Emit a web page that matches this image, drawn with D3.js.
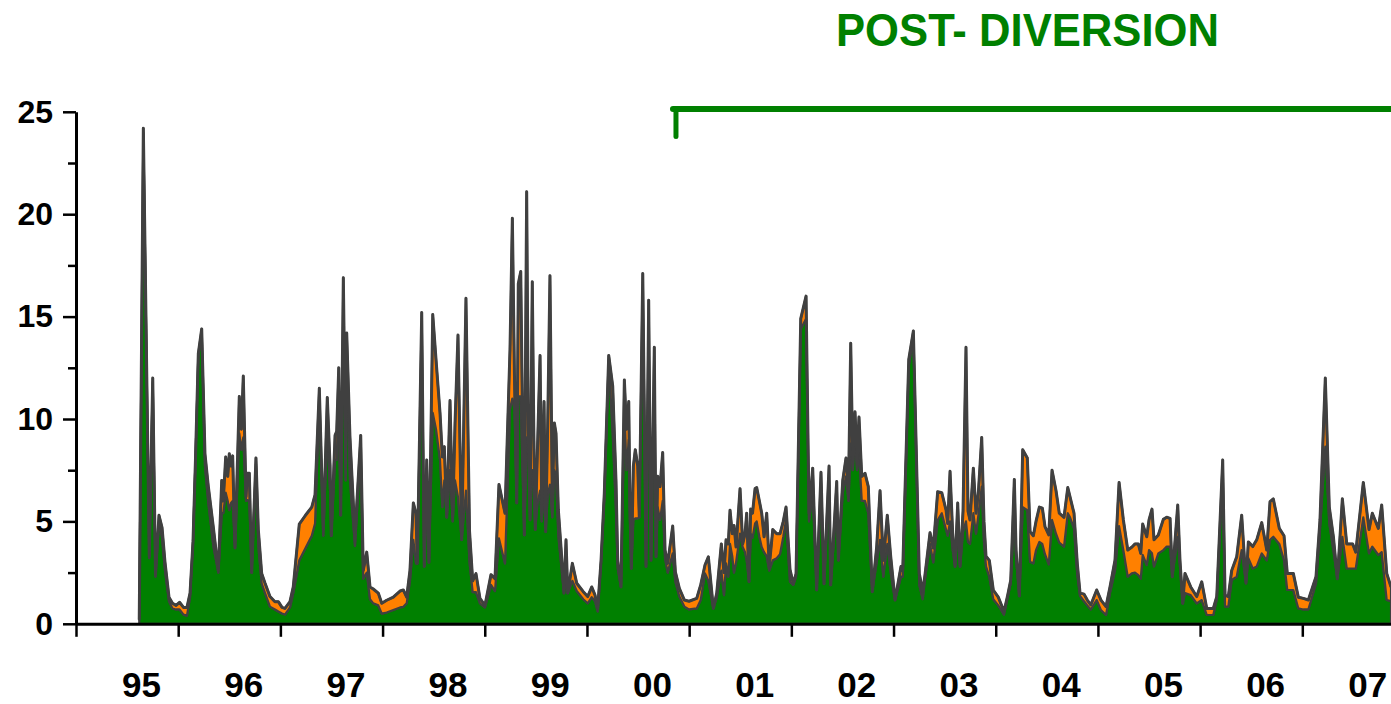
<!DOCTYPE html>
<html><head><meta charset="utf-8">
<script src="https://cdn.jsdelivr.net/npm/d3@7"></script>
<style>html,body{margin:0;padding:0;background:#fff;} svg{display:block;}</style>
</head><body>
<svg id="chart" width="1391" height="704"></svg>
<script>
// ---- DATA (decimal years) ----
const dates = [
 1995.619,1995.659,1995.717,1995.751,1995.778,1995.812,1995.842,1995.871,1995.910,1995.944,1995.979,
 1996.013,1996.052,1996.086,1996.116,1996.145,1996.169,1996.197,1996.230,1996.262,1996.295,1996.344,1996.393,1996.426,1996.441,1996.465,1996.485,1996.500,1996.517,1996.533,1996.556,1996.598,1996.618,1996.637,1996.664,1996.676,1996.696,1996.719,1996.761,1996.784,1996.817,1996.850,1996.898,1996.947,1996.980,
 1997.016,1997.045,1997.094,1997.126,1997.185,1997.246,1997.307,1997.339,1997.381,1997.420,1997.459,1997.486,1997.498,1997.535,1997.551,1997.571,1997.590,1997.616,1997.639,1997.649,1997.681,1997.730,1997.786,1997.811,1997.845,1997.877,1997.909,1997.958,1997.992,
 1998.040,1998.105,1998.171,1998.203,1998.236,1998.268,1998.301,1998.327,1998.340,1998.383,1998.408,1998.432,1998.454,1998.491,1998.523,1998.562,1998.585,1998.604,1998.628,1998.660,1998.686,1998.709,1998.738,1998.774,1998.816,1998.851,1998.882,1998.914,1998.953,
 1999.002,1999.061,1999.100,1999.139,1999.198,1999.247,1999.270,1999.291,1999.313,1999.328,1999.352,1999.367,1999.387,1999.410,1999.426,1999.443,1999.465,1999.480,1999.494,1999.516,1999.541,1999.557,1999.580,1999.596,1999.616,1999.638,1999.661,1999.681,1999.697,1999.720,1999.759,1999.775,1999.795,1999.812,1999.857,1999.900,1999.964,
 2000.007,2000.047,2000.079,2000.105,2000.138,2000.170,2000.213,2000.252,2000.284,2000.301,2000.333,2000.366,2000.387,2000.409,2000.421,2000.434,2000.454,2000.473,2000.497,2000.512,2000.546,2000.578,2000.604,2000.627,2000.659,2000.676,2000.692,2000.715,2000.741,2000.764,2000.790,2000.839,2000.865,2000.904,2000.953,2000.999,
 2001.074,2001.113,2001.155,2001.188,2001.237,2001.270,2001.315,2001.341,2001.361,2001.383,2001.400,2001.422,2001.439,2001.459,2001.498,2001.524,2001.547,2001.563,2001.586,2001.602,2001.620,2001.645,2001.661,2001.687,2001.710,2001.733,2001.759,2001.784,2001.818,2001.857,2001.889,2001.921,2001.948,2001.987,
 2002.019,2002.046,2002.092,2002.144,2002.173,2002.209,2002.248,2002.290,2002.320,2002.369,2002.385,2002.444,2002.460,2002.503,2002.535,2002.559,2002.581,2002.601,2002.623,2002.643,2002.662,2002.689,2002.721,2002.753,2002.792,2002.835,2002.868,2002.900,2002.939,2002.972,
 2003.015,2003.073,2003.090,2003.149,2003.194,2003.252,2003.286,2003.308,2003.357,2003.389,2003.432,2003.472,2003.514,2003.530,2003.553,2003.579,2003.602,2003.628,2003.651,2003.680,2003.709,2003.729,2003.748,2003.781,2003.807,2003.830,2003.863,2003.885,2003.905,2003.937,2003.976,
 2004.025,2004.081,2004.113,2004.147,2004.182,2004.199,2004.231,2004.264,2004.309,2004.336,2004.368,2004.394,2004.427,2004.456,2004.482,2004.519,2004.551,2004.590,2004.622,2004.668,2004.705,2004.727,2004.766,2004.798,2004.825,2004.864,2004.896,2004.930,2004.988,
 2005.030,2005.079,2005.118,2005.167,2005.207,2005.249,2005.292,2005.331,2005.363,2005.395,2005.419,2005.438,2005.478,2005.500,2005.529,2005.549,2005.591,2005.640,2005.673,2005.706,2005.728,2005.781,2005.803,2005.830,2005.852,2005.908,2005.967,
 2006.016,2006.065,2006.129,2006.163,2006.221,2006.244,2006.276,2006.309,2006.358,2006.407,2006.449,2006.472,2006.515,2006.554,2006.603,2006.652,2006.684,2006.716,2006.775,2006.821,2006.853,2006.912,2006.961,
 2007.010,2007.059,2007.134,2007.173,2007.225,2007.264,2007.304,2007.343,2007.392,2007.435,2007.493,2007.523,2007.597,2007.653,2007.685,2007.744,2007.777,2007.826,2007.868
];
// lower (green) series
const greenVals = [
 0.2,24.0,3.2,11.8,2.3,5.0,4.2,2.6,1.1,0.75,0.7,
 0.7,0.45,0.4,1.3,4.0,8.0,13.1,14.2,7.7,5.9,3.8,2.5,5.4,5.4,6.4,6.0,5.55,5.9,6.0,3.7,9.3,8.5,9.1,6.0,6.05,6.0,2.5,7.8,3.8,1.98,1.5,0.84,0.7,0.6,
 0.5,0.45,0.8,1.5,3.1,3.7,4.3,4.9,11.0,4.3,9.5,6.5,4.3,8.0,8.0,11.5,5.3,15.5,7.0,13.0,7.0,3.8,8.5,2.2,2.5,1.2,1.0,0.9,0.5,
 0.55,0.67,0.8,0.83,1.0,2.1,4.1,2.95,2.95,14.5,2.8,6.7,3.0,10.3,9.5,8.0,5.7,7.0,5.2,7.5,5.0,7.0,6.2,4.1,6.5,3.0,1.55,1.55,1.0,
 0.8,1.9,1.6,4.17,2.95,10.5,11.0,10.5,5.9,11.1,11.1,8.0,4.34,9.1,9.0,5.07,7.5,7.0,4.6,5.9,6.5,5.0,6.7,4.5,6.3,6.8,5.2,7.5,7.3,4.3,2.3,1.5,2.5,1.5,2.1,1.6,1.2,
 1.0,1.3,1.1,0.6,3.0,6.2,12.9,9.3,5.5,2.7,1.8,10.6,7.5,9.0,5.0,2.7,5.07,5.15,5.15,5.2,16.0,2.8,14.0,3.1,11.0,3.27,5.7,5.07,6.0,3.2,2.5,3.44,2.05,1.33,0.84,0.7,
 0.75,1.16,2.46,2.1,0.75,1.3,2.6,1.4,2.95,2.3,3.9,3.3,2.5,3.0,4.4,3.75,3.5,3.1,2.05,4.4,4.2,4.9,5.0,4.25,3.75,3.5,3.3,2.6,3.1,3.2,3.4,4.25,5.07,2.05,
 1.9,2.3,14.4,14.9,5.0,6.4,1.65,6.85,1.95,7.0,1.9,6.0,3.1,6.4,7.2,6.0,8.8,7.5,9.1,7.5,8.5,6.0,6.0,5.4,1.57,3.0,4.1,2.3,3.9,2.5,
 1.16,2.3,2.3,12.6,14.0,1.9,1.2,2.2,3.9,3.0,5.07,5.4,4.6,4.3,5.0,3.6,2.8,4.6,2.8,4.5,5.0,4.0,3.9,5.4,4.4,5.3,6.7,4.0,2.8,2.3,1.2,
 0.9,0.45,1.2,2.0,5.7,3.2,1.36,5.7,5.55,3.03,2.95,3.6,4.0,3.9,3.4,2.9,5.07,4.4,3.96,3.77,5.4,5.2,4.66,2.4,1.36,1.1,0.9,0.7,1.16,
 0.67,0.43,1.5,2.6,4.77,3.6,2.3,2.46,2.5,2.38,2.2,3.36,2.87,3.6,3.44,2.8,3.44,3.6,3.77,3.77,2.3,4.25,2.8,1.0,1.5,1.4,1.0,
 1.16,0.43,0.43,1.2,7.5,0.84,0.84,2.14,2.3,3.6,1.97,3.2,2.7,2.8,3.44,3.1,4.1,4.25,3.9,3.1,1.65,1.65,0.75,
 0.7,0.7,1.97,4.6,8.65,4.9,3.6,2.2,4.25,2.7,2.7,2.7,5.2,3.44,3.77,3.36,3.5,1.16,1.1
];
// upper (orange) series, stacked on green
const orangeVals = [
 0,0.2,0.1,0.2,0.1,0.3,0.5,0.4,0.2,0.25,0.2,
 0.35,0.35,0.4,0.2,0,0,0.1,0.2,0.6,0.8,0.9,0.1,1.6,0.6,1.75,1.2,2.75,1.8,2.2,0,1.8,1.0,3.0,0.2,1.3,1.35,0,0.3,0.8,0.48,0.48,0.49,0.38,0.48,
 0.3,0.3,0.28,0.3,1.77,1.6,1.4,1.4,0.5,0.3,1.55,1.25,0,1.2,1.4,1.0,0,1.4,0.8,1.2,2.1,0.5,0.7,0.4,1.0,0.6,0.7,0.6,0.5,
 0.6,0.63,0.8,0.82,0.3,0.5,1.8,2.45,0,0.7,0,1.3,0,4.8,3.4,2.3,2.45,1.65,0,3.4,0.2,2.8,7.9,0,9.4,1.5,0.55,0.9,0.24,
 0.1,0.5,0.6,2.63,2.45,2.9,8.8,1.5,0,5.5,6.1,3.0,0,12.0,0.46,0,9.2,2.3,0,2.7,6.6,0.9,4.15,0,3.5,10.2,0.85,2.3,2.0,1.26,0.5,0,1.6,0,0.85,0.38,0.37,
 0.33,0.5,0.3,0.15,0.1,0.2,0.2,2.3,1.5,0.4,0,1.3,2.0,1.85,0.7,0,2.63,3.35,2.55,0,1.1,0,1.8,0,2.5,0,1.5,1.63,2.36,0.4,0.45,1.33,0.49,0.4,0.32,0.4,
 0.49,0.74,0.41,1.17,0,0.2,1.3,1.1,1.15,1.6,1.65,1.1,2.3,0.75,2.2,0.15,0.9,2.3,0,1.2,1.2,1.7,1.65,1.75,1.65,0.75,2.1,0.2,1.5,1.2,1.0,0.75,0.63,0.6,
 0.05,0.15,0.5,1.1,0.4,1.2,0,0.55,0,0.7,0,0.95,0,0.6,0.9,0.5,4.9,0.5,1.25,0.5,1.6,1.2,1.35,1.3,0,0.76,2.4,0.8,1.4,0.8,
 0,0.5,0.3,0.3,0.3,0.55,0.37,0.2,0.55,0.7,1.38,1.0,0.95,0.6,2.45,0.8,0,1.3,0,1.0,8.5,1.5,1.17,2.2,1.0,1.1,2.4,1.0,0.5,0.8,0.45,
 0.4,0.15,0.1,0.14,1.35,0.4,0,2.8,2.55,1.47,1.35,1.4,1.7,1.75,1.35,1.44,2.43,2.1,1.44,1.43,1.25,1.0,0.74,0.55,0.14,0.35,0.26,0.22,0.49,
 0.49,0.41,0.3,0.5,2.13,1.47,1.3,1.28,1.4,1.52,1.24,1.51,1.38,1.47,2.16,1.3,0.9,1.5,1.43,1.38,0,1.55,0.3,0,0.96,0.4,0.33,
 0.89,0.32,0.32,0.13,0.5,0.56,0.49,0.46,0.97,1.7,0.03,0.8,1.07,1.3,1.5,0.5,1.86,1.85,0.76,1.2,0.81,0.81,0.55,
 0.54,0.46,0.33,0.47,3.35,0.8,0.65,0,1.85,1.2,1.2,0.8,1.7,1.16,1.63,1.3,2.3,1.3,0.7
];
const yearTicks = [1995,1996,1997,1998,1999,2000,2001,2002,2003,2004,2005,2006,2007,2008];
const yearLabels = ["95","96","97","98","99","00","01","02","03","04","05","06","07"];
const yMajor = [0,5,10,15,20,25];
const yMinor = [2.5,7.5,12.5,17.5,22.5];
const titleText = "POST- DIVERSION";
const diversionStart = 2000.871;

if (dates.length !== greenVals.length || dates.length !== orangeVals.length) {
  console.error("length mismatch", dates.length, greenVals.length, orangeVals.length);
}

// ---- CHART ----
const svg = d3.select("#chart");
const FONT = "'Liberation Sans', Arial, Helvetica, sans-serif";
const x = d3.scaleLinear().domain([1995, 2008]).range([76, 1404.5]);
const y = d3.scaleLinear().domain([0, 25]).range([623.8, 111.8]);

const rows = dates.map((t, i) => ({t, green: greenVals[i], orange: orangeVals[i]}));
const series = d3.stack().keys(["green", "orange"])(rows);
const fills = {green: "#008000", orange: "#FF8000"};
const area = d3.area().x(d => x(d.data.t)).y0(d => y(d[0])).y1(d => y(d[1]));

svg.append("g").selectAll("path").data(series).join("path")
  .attr("d", area)
  .attr("fill", d => fills[d.key])
  .attr("stroke", "#404040")
  .attr("stroke-width", 2.2)
  .attr("stroke-linejoin", "round");

const topLine = d3.line().x(d => x(d.data.t)).y(d => y(d[1]));
svg.append("path").datum(series[1])
  .attr("d", topLine)
  .attr("fill", "none")
  .attr("stroke", "#404040")
  .attr("stroke-width", 3)
  .attr("stroke-linejoin", "round");

// y axis
const gy = svg.append("g").attr("transform", "translate(76,0)")
  .call(d3.axisLeft(y).tickValues(yMajor).tickSize(13).tickSizeOuter(0).tickPadding(10).tickFormat(d3.format("d")));
gy.select(".domain").attr("stroke", "#000").attr("stroke-width", 3);
gy.selectAll(".tick line").attr("stroke", "#000").attr("stroke-width", 2.5);
gy.selectAll(".tick text").attr("font-family", FONT).attr("font-weight", "bold")
  .attr("font-size", 32).attr("fill", "#000");

const gyMinor = svg.append("g").attr("transform", "translate(76,0)")
  .call(d3.axisLeft(y).tickValues(yMinor).tickSize(8).tickSizeOuter(0).tickFormat(""));
gyMinor.select(".domain").remove();
gyMinor.selectAll(".tick line").attr("stroke", "#000").attr("stroke-width", 2.5);

// x axis
const gx = svg.append("g").attr("transform", `translate(0,${y(0)})`)
  .call(d3.axisBottom(x).tickValues(yearTicks).tickSize(13).tickSizeOuter(0).tickFormat(""));
gx.select(".domain").attr("stroke", "#000").attr("stroke-width", 3);
gx.selectAll(".tick line").attr("stroke", "#000").attr("stroke-width", 2.5);

const gxl = svg.append("g").attr("transform", `translate(0,${y(0)})`)
  .call(d3.axisBottom(x).tickValues(yearLabels.map((_, i) => yearTicks[i] + 0.636))
    .tickSize(0).tickPadding(48).tickFormat((d, i) => yearLabels[i]));
gxl.select(".domain").remove();
gxl.selectAll(".tick text").attr("font-family", FONT).attr("font-weight", "bold")
  .attr("font-size", 35).attr("fill", "#000");

// post-diversion bracket and title
const bracketY = y(25.14);
svg.append("line")
  .attr("x1", x(diversionStart) - 3).attr("x2", 1400)
  .attr("y1", bracketY).attr("y2", bracketY)
  .attr("stroke", "#008000").attr("stroke-width", 6).attr("stroke-linecap", "round");
svg.append("line")
  .attr("x1", x(diversionStart)).attr("x2", x(diversionStart))
  .attr("y1", bracketY).attr("y2", y(23.8))
  .attr("stroke", "#008000").attr("stroke-width", 5).attr("stroke-linecap", "round");

svg.append("text")
  .attr("x", 1027.5).attr("y", 46)
  .attr("text-anchor", "middle")
  .attr("font-family", FONT).attr("font-weight", "bold").attr("font-size", 47)
  .attr("fill", "#008000")
  .attr("textLength", 383).attr("lengthAdjust", "spacingAndGlyphs")
  .text(titleText);
</script>
</body></html>
